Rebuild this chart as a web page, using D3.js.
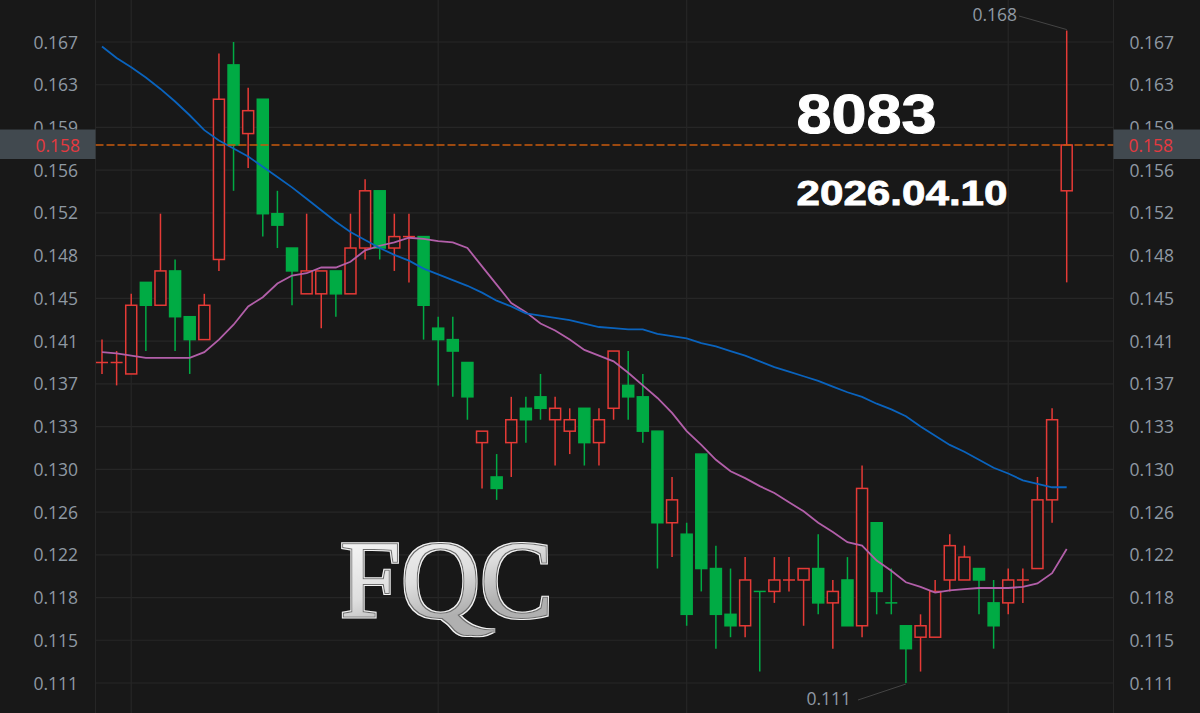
<!DOCTYPE html>
<html>
<head>
<meta charset="utf-8">
<script src="https://cdn.jsdelivr.net/npm/d3@7"></script>
<style>
  html, body { margin: 0; padding: 0; background: #181818; overflow: hidden; }
</style>
</head>
<body>
<div id="chart"></div>
<script>
const opens = [0.139,0.139,0.138,0.146,0.144,0.147,0.143,0.141,0.148,0.165,0.159,0.162,0.152,0.149,0.145,0.145,0.147,0.145,0.149,0.154,0.149,0.150,0.150,0.142,0.141,0.139,0.132,0.129,0.132,0.135,0.136,0.134,0.133,0.135,0.132,0.135,0.137,0.136,0.133,0.125,0.124,0.131,0.121,0.117,0.116,0.119,0.119,0.120,0.120,0.121,0.118,0.120,0.116,0.125,0.118,0.116,0.115,0.115,0.120,0.120,0.121,0.118,0.118,0.120,0.121,0.127,0.154];
const closes = [0.139,0.139,0.144,0.144,0.147,0.143,0.141,0.144,0.162,0.158,0.161,0.152,0.151,0.147,0.147,0.147,0.145,0.149,0.154,0.149,0.150,0.150,0.144,0.141,0.140,0.136,0.133,0.128,0.134,0.134,0.135,0.135,0.134,0.132,0.134,0.140,0.136,0.133,0.125,0.127,0.117,0.121,0.117,0.116,0.120,0.119,0.120,0.120,0.121,0.118,0.119,0.116,0.128,0.119,0.118,0.114,0.116,0.119,0.123,0.122,0.120,0.116,0.120,0.120,0.127,0.134,0.158];
const highs = [0.141,0.140,0.145,0.146,0.152,0.148,0.143,0.145,0.166,0.167,0.163,0.162,0.154,0.149,0.152,0.147,0.147,0.152,0.155,0.154,0.152,0.152,0.150,0.143,0.143,0.139,0.133,0.131,0.136,0.136,0.138,0.136,0.135,0.135,0.135,0.140,0.140,0.138,0.133,0.129,0.125,0.131,0.123,0.121,0.122,0.119,0.122,0.122,0.121,0.124,0.120,0.122,0.130,0.125,0.121,0.116,0.117,0.120,0.124,0.123,0.121,0.120,0.121,0.121,0.129,0.135,0.168];
const lows = [0.138,0.137,0.138,0.140,0.144,0.140,0.138,0.141,0.147,0.154,0.156,0.150,0.149,0.144,0.145,0.142,0.143,0.145,0.148,0.148,0.147,0.146,0.141,0.137,0.136,0.134,0.128,0.127,0.129,0.132,0.134,0.130,0.131,0.130,0.130,0.134,0.134,0.132,0.121,0.122,0.116,0.119,0.114,0.115,0.115,0.112,0.118,0.119,0.116,0.117,0.114,0.116,0.115,0.117,0.117,0.111,0.112,0.115,0.119,0.120,0.117,0.114,0.117,0.118,0.121,0.125,0.146];
// flat candles that are drawn green
const flatDown = [45, 54];

const maShort = [0.1399,0.1398,0.1396,0.1394,0.1394,0.1394,0.1394,0.1399,0.1410,0.1423,0.1439,0.1447,0.1459,0.1466,0.1468,0.1473,0.1473,0.1478,0.1488,0.1492,0.1495,0.1499,0.1498,0.1496,0.1495,0.1490,0.1474,0.1458,0.1442,0.1434,0.1424,0.1418,0.1410,0.1401,0.1396,0.1391,0.1381,0.1370,0.1359,0.1346,0.1330,0.1318,0.1305,0.1295,0.1289,0.1282,0.1276,0.1268,0.1260,0.1250,0.1242,0.1233,0.1230,0.1217,0.1208,0.1198,0.1194,0.1189,0.1191,0.1192,0.1193,0.1193,0.1193,0.1194,0.1197,0.1206,0.1227];
const maLong = [0.1666,0.1656,0.1648,0.1639,0.1629,0.1618,0.1606,0.1593,0.1584,0.1577,0.1570,0.1561,0.1552,0.1543,0.1533,0.1523,0.1513,0.1504,0.1497,0.1490,0.1484,0.1479,0.1472,0.1467,0.1462,0.1457,0.1451,0.1444,0.1439,0.1433,0.1431,0.1429,0.1427,0.1424,0.1421,0.1420,0.1419,0.1419,0.1415,0.1413,0.1411,0.1407,0.1404,0.1400,0.1396,0.1391,0.1386,0.1382,0.1378,0.1374,0.1369,0.1364,0.1360,0.1354,0.1349,0.1343,0.1334,0.1326,0.1318,0.1312,0.1305,0.1298,0.1293,0.1287,0.1284,0.1281,0.1281];

const tickLabels = ["0.111","0.115","0.118","0.122","0.126","0.130","0.133","0.137","0.141","0.145","0.148","0.152","0.156","0.159","0.163","0.167"];
const monthLines = [2, 23, 40, 62];
const lastPrice = 0.158;
const highLabel = "0.168";
const lowLabel = "0.111";

const width = 1200;
const height = 713;
const plot = { left: 95.5, right: 1113.5 };

const bg = "#181818";
const gridColor = "#262626";
const red = "#e53a36";
const green = "#00ab44";
const axisColor = "#8f99a3";
const font = "'Open Sans', sans-serif";

const x = d3.scaleLinear().domain([0, 66]).range([102, 1066.7]);
const y = d3.scaleLinear().domain([0.111, 0.167]).range([683, 42]);
const yTick = d3.scalePoint().domain(tickLabels).range([683, 42]);

const candles = opens.map((o, i) => ({
  i,
  open: o,
  close: closes[i],
  high: highs[i],
  low: lows[i],
  up: o === closes[i] ? !flatDown.includes(i) : closes[i] > o,
}));

const svg = d3
  .select("#chart")
  .append("svg")
  .attr("width", width)
  .attr("height", height)
  .style("display", "block")
  .style("background", bg);

const defs = svg.append("defs");

// silver gradient for the logo
const grad = defs
  .append("linearGradient")
  .attr("id", "silver")
  .attr("gradientUnits", "userSpaceOnUse")
  .attr("x1", 340)
  .attr("y1", 540)
  .attr("x2", 370)
  .attr("y2", 640);
grad.append("stop").attr("offset", "0").attr("stop-color", "#f6f6f6");
grad.append("stop").attr("offset", "0.6").attr("stop-color", "#dedede");
grad.append("stop").attr("offset", "1").attr("stop-color", "#b0b0b0");

// bevelled edge: light rim, dark rim, then the letters
const bevel = defs
  .append("filter")
  .attr("id", "bevel")
  .attr("filterUnits", "userSpaceOnUse")
  .attr("x", 320)
  .attr("y", 520)
  .attr("width", 250)
  .attr("height", 130);
bevel.append("feMorphology").attr("in", "SourceAlpha").attr("operator", "dilate").attr("radius", 1.7).attr("result", "outer");
bevel.append("feMorphology").attr("in", "SourceAlpha").attr("operator", "dilate").attr("radius", 0.9).attr("result", "inner");
bevel.append("feFlood").attr("flood-color", "#f2f2f2").attr("result", "light");
bevel.append("feComposite").attr("in", "light").attr("in2", "outer").attr("operator", "in").attr("result", "rimLight");
bevel.append("feFlood").attr("flood-color", "#6e6e6e").attr("result", "dark");
bevel.append("feComposite").attr("in", "dark").attr("in2", "inner").attr("operator", "in").attr("result", "rimDark");
const bevelMerge = bevel.append("feMerge");
bevelMerge.append("feMergeNode").attr("in", "rimLight");
bevelMerge.append("feMergeNode").attr("in", "rimDark");
bevelMerge.append("feMergeNode").attr("in", "SourceGraphic");

// grid
svg
  .append("g")
  .selectAll("line")
  .data(tickLabels)
  .enter()
  .append("line")
  .attr("x1", plot.left)
  .attr("x2", plot.right)
  .attr("y1", (d) => yTick(d))
  .attr("y2", (d) => yTick(d))
  .attr("stroke", gridColor)
  .attr("stroke-width", 1.2);

svg
  .append("g")
  .selectAll("line")
  .data(monthLines)
  .enter()
  .append("line")
  .attr("x1", (d) => x(d))
  .attr("x2", (d) => x(d))
  .attr("y1", 0)
  .attr("y2", height)
  .attr("stroke", gridColor)
  .attr("stroke-width", 1.2);

svg
  .append("g")
  .selectAll("line")
  .data([plot.left, plot.right])
  .enter()
  .append("line")
  .attr("x1", (d) => d)
  .attr("x2", (d) => d)
  .attr("y1", 0)
  .attr("y2", height)
  .attr("stroke", gridColor)
  .attr("stroke-width", 1);

// axis labels, left and right
const axisLabels = (anchorX, anchor) =>
  svg
    .append("g")
    .selectAll("text")
    .data(tickLabels)
    .enter()
    .append("text")
    .attr("x", anchorX)
    .attr("y", (d) => yTick(d) + 6.5)
    .attr("text-anchor", anchor)
    .attr("font-family", font)
    .attr("font-size", 17.5)
    .attr("fill", axisColor)
    .text((d) => d);

axisLabels(78, "end");
axisLabels(1129.5, "start");

// watermark texts
svg
  .append("text")
  .attr("x", 796.5)
  .attr("y", 132.5)
  .attr("font-family", "'Liberation Sans', sans-serif")
  .attr("font-weight", "bold")
  .attr("font-size", 56)
  .attr("textLength", 140)
  .attr("lengthAdjust", "spacingAndGlyphs")
  .attr("fill", "#fff")
  .attr("stroke", "#fff")
  .attr("stroke-width", 1)
  .text("8083");

svg
  .append("text")
  .attr("x", 796.5)
  .attr("y", 205)
  .attr("font-family", "'Liberation Sans', sans-serif")
  .attr("font-weight", "bold")
  .attr("font-size", 35)
  .attr("textLength", 211)
  .attr("lengthAdjust", "spacingAndGlyphs")
  .attr("fill", "#fff")
  .attr("stroke", "#fff")
  .attr("stroke-width", 0.8)
  .text("2026.04.10");

// logo
const logoTail = "M455 612 Q470 632 494 630 Q478 640 462 631 Q449 624 440 616 Z";

const logo = svg.append("g").attr("filter", "url(#bevel)").attr("fill", "url(#silver)");

logo.append("path").attr("d", logoTail);

logo
  .append("text")
  .attr("x", 340)
  .attr("y", 617)
  .attr("font-family", "'Liberation Serif', serif")
  .attr("font-size", 110)
  .attr("textLength", 213)
  .attr("lengthAdjust", "spacingAndGlyphs")
  .text("FQC");

// candles
const candle = svg
  .append("g")
  .selectAll("g")
  .data(candles)
  .enter()
  .append("g")
  .attr("stroke", (d) => (d.up ? red : green));

candle
  .append("line")
  .attr("x1", (d) => x(d.i))
  .attr("x2", (d) => x(d.i))
  .attr("y1", (d) => y(d.high))
  .attr("y2", (d) => y(d.low))
  .attr("stroke-width", 1.5);

candle
  .filter((d) => d.open !== d.close)
  .append("rect")
  .attr("x", (d) => x(d.i) - 5.5)
  .attr("y", (d) => y(Math.max(d.open, d.close)))
  .attr("width", 11)
  .attr("height", (d) => Math.abs(y(d.open) - y(d.close)))
  .attr("fill", (d) => (d.up ? bg : green))
  .attr("stroke-width", 1.5);

// a flat candle has no body, only a bar
candle
  .filter((d) => d.open === d.close)
  .append("line")
  .attr("x1", (d) => x(d.i) - 6)
  .attr("x2", (d) => x(d.i) + 6)
  .attr("y1", (d) => y(d.close))
  .attr("y2", (d) => y(d.close))
  .attr("stroke-width", 1.5);

// moving averages
const line = d3
  .line()
  .x((d, i) => x(i))
  .y((d) => y(d));

svg
  .append("path")
  .attr("d", line(maShort))
  .attr("fill", "none")
  .attr("stroke", "#b25fa9")
  .attr("stroke-width", 1.8);

svg
  .append("path")
  .attr("d", line(maLong))
  .attr("fill", "none")
  .attr("stroke", "#0a63bd")
  .attr("stroke-width", 1.8);

// last price line and tags
svg
  .append("line")
  .attr("x1", plot.left)
  .attr("x2", plot.right)
  .attr("y1", y(lastPrice))
  .attr("y2", y(lastPrice))
  .attr("stroke", "#c85a0c")
  .attr("stroke-width", 1.5)
  .attr("stroke-dasharray", "8 3");

[
  { x: 0, w: plot.left, tx: 80, anchor: "end" },
  { x: plot.right, w: width - plot.right, tx: 1128.5, anchor: "start" },
].forEach((t) => {
  svg
    .append("rect")
    .attr("x", t.x)
    .attr("y", y(lastPrice) - 15.5)
    .attr("width", t.w)
    .attr("height", 29.5)
    .attr("fill", "#41494f");
  svg
    .append("text")
    .attr("x", t.tx)
    .attr("y", y(lastPrice) + 6.5)
    .attr("text-anchor", t.anchor)
    .attr("font-family", font)
    .attr("font-size", 17.5)
    .attr("fill", "#e5393f")
    .text(lastPrice.toFixed(3));
});

// high and low annotations
const notes = [
  { text: highLabel, i: 66, v: 0.168, lx: 1019, ly: 16, tx: 1017, ty: 21 },
  { text: lowLabel, i: 55, v: 0.111, lx: 858, ly: 700, tx: 851, ty: 705 },
];

notes.forEach((n) => {
  svg
    .append("line")
    .attr("x1", n.lx)
    .attr("y1", n.ly)
    .attr("x2", x(n.i))
    .attr("y2", y(n.v) + (n.v > 0.15 ? -1 : 1))
    .attr("stroke", "#444")
    .attr("stroke-width", 1);
  svg
    .append("text")
    .attr("x", n.tx)
    .attr("y", n.ty)
    .attr("text-anchor", "end")
    .attr("font-family", font)
    .attr("font-size", 17.5)
    .attr("fill", axisColor)
    .text(n.text);
});
</script>
</body>
</html>
